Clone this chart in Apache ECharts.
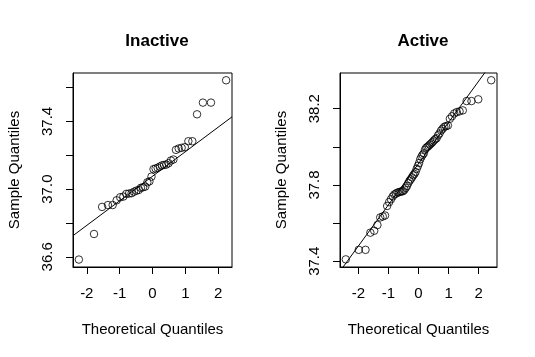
<!DOCTYPE html>
<html>
<head>
<meta charset="utf-8">
<script src="https://cdn.jsdelivr.net/npm/echarts@6/dist/echarts.min.js"></script>
<style>html,body{margin:0;padding:0;background:#fff;}#c{width:535px;height:357px;}</style>
</head>
<body>
<div id="c"></div>
<script>
// ---- data ----
const inactiveTheo = [-2.241,-1.780,-1.534,-1.356,-1.213,-1.092,-0.984,-0.887,-0.798,-0.714,-0.636,-0.561,-0.489,-0.419,-0.352,-0.286,-0.221,-0.157,-0.094,-0.031,0.031,0.094,0.157,0.221,0.286,0.352,0.419,0.489,0.561,0.636,0.714,0.798,0.887,0.984,1.092,1.213,1.356,1.534,1.780,2.241];
const inactiveSample = [36.584,36.735,36.895,36.906,36.906,36.934,36.952,36.956,36.972,36.974,36.976,36.985,36.991,36.995,37.008,37.011,37.015,37.040,37.046,37.074,37.118,37.122,37.126,37.133,37.140,37.143,37.145,37.153,37.169,37.175,37.232,37.240,37.244,37.248,37.283,37.283,37.442,37.511,37.511,37.643];
const activeTheo = [-2.418,-1.987,-1.762,-1.601,-1.473,-1.366,-1.273,-1.189,-1.113,-1.043,-0.978,-0.916,-0.858,-0.803,-0.750,-0.699,-0.650,-0.602,-0.556,-0.511,-0.467,-0.424,-0.381,-0.340,-0.298,-0.258,-0.217,-0.177,-0.137,-0.098,-0.059,-0.020,0.020,0.059,0.098,0.137,0.177,0.217,0.258,0.298,0.340,0.381,0.424,0.467,0.511,0.556,0.602,0.650,0.699,0.750,0.803,0.858,0.916,0.978,1.043,1.113,1.189,1.273,1.366,1.473,1.601,1.762,1.987,2.418];
const activeSample = [37.41,37.46,37.46,37.55,37.56,37.59,37.63,37.635,37.64,37.69,37.71,37.725,37.74,37.75,37.755,37.76,37.762,37.765,37.766,37.768,37.775,37.785,37.795,37.81,37.822,37.83,37.84,37.85,37.858,37.868,37.885,37.90,37.915,37.935,37.948,37.958,37.966,37.985,37.995,38.0,38.005,38.012,38.018,38.025,38.033,38.04,38.045,38.06,38.07,38.085,38.095,38.105,38.108,38.112,38.147,38.16,38.175,38.182,38.186,38.191,38.24,38.24,38.249,38.349];
// reference (qqline) end points
const lineInactive = [[-2.42, 36.725], [2.42, 37.427]];
const lineActive = [[-2.62, 37.346], [2.62, 38.478]];
const xTicks = [-2, -1, 0, 1, 2];
const inactiveYTicks = [36.6, 36.8, 37.0, 37.2, 37.4, 37.6];
const inactiveYLabels = [36.6, 37.0, 37.4];
const activeYTicks = [37.4, 37.6, 37.8, 38.0, 38.2];
const activeYLabels = [37.4, 37.8, 38.2];
const titles = ['Inactive', 'Active'];
const xName = 'Theoretical Quantiles';
const yName = 'Sample Quantiles';

// ---- chart ----
const FONT = '"Liberation Sans", Arial, sans-serif';
const zip = (a, b) => a.map((v, i) => [v, b[i]]);
const black = '#000';

function xAxis(gi, min, max) {
  return {
    type: 'value', gridIndex: gi, min: min, max: max,
    name: xName, nameLocation: 'middle', nameGap: 55,
    nameTextStyle: {fontFamily: FONT, fontSize: 15, color: black},
    axisLine: {show: true, onZero: false, lineStyle: {color: black, width: 1}},
    axisTick: {show: true, length: 7, lineStyle: {color: black}, customValues: xTicks},
    axisLabel: {show: true, margin: 19, fontFamily: FONT, fontSize: 15, color: black,
      customValues: xTicks, formatter: v => String(v)},
    splitLine: {show: false}
  };
}
function yAxis(gi, min, max, ticks, labels) {
  return {
    type: 'value', gridIndex: gi, min: min, max: max,
    name: yName, nameLocation: 'middle', nameGap: 51,
    nameTextStyle: {fontFamily: FONT, fontSize: 15, color: black},
    axisLine: {show: true, onZero: false, lineStyle: {color: black, width: 1}},
    axisTick: {show: true, length: 7, lineStyle: {color: black}, customValues: ticks},
    axisLabel: {show: true, rotate: 90, margin: 18, fontFamily: FONT, fontSize: 15, color: black,
      customValues: labels, formatter: v => Number(v).toFixed(1)},
    splitLine: {show: false}
  };
}
function pts(gi, x, y) {
  return {
    type: 'scatter', xAxisIndex: gi, yAxisIndex: gi, data: zip(x, y),
    symbol: 'circle', symbolSize: 7.5,
    itemStyle: {color: 'rgba(0,0,0,0)', borderColor: black, borderWidth: 1},
    emphasis: {disabled: true}, silent: true, animation: false
  };
}
function ln(gi, d) {
  return {
    type: 'line', xAxisIndex: gi, yAxisIndex: gi, data: d, clip: true,
    symbol: 'none', lineStyle: {color: black, width: 1}, silent: true, animation: false
  };
}

const chart = echarts.init(document.getElementById('c'), null, {renderer: 'canvas'});
chart.setOption({
  backgroundColor: '#fff',
  animation: false,
  title: [
    {text: titles[0], left: 152, top: 28, textAlign: 'center',
     textStyle: {fontFamily: FONT, fontSize: 17, fontWeight: 'bold', color: black}},
    {text: titles[1], left: 418, top: 28, textAlign: 'center',
     textStyle: {fontFamily: FONT, fontSize: 17, fontWeight: 'bold', color: black}}
  ],
  grid: [
    {left: 73, top: 73, width: 159, height: 194, show: true, borderColor: black, borderWidth: 1, backgroundColor: 'transparent'},
    {left: 340, top: 73, width: 157, height: 194, show: true, borderColor: black, borderWidth: 1, backgroundColor: 'transparent'}
  ],
  xAxis: [xAxis(0, -2.42, 2.42), xAxis(1, -2.611, 2.611)],
  yAxis: [yAxis(0, 36.54, 37.686, inactiveYTicks, inactiveYLabels),
          yAxis(1, 37.37, 38.387, activeYTicks, activeYLabels)],
  series: [
    ln(0, lineInactive), pts(0, inactiveTheo, inactiveSample),
    ln(1, lineActive), pts(1, activeTheo, activeSample)
  ]
});
</script>
</body>
</html>
